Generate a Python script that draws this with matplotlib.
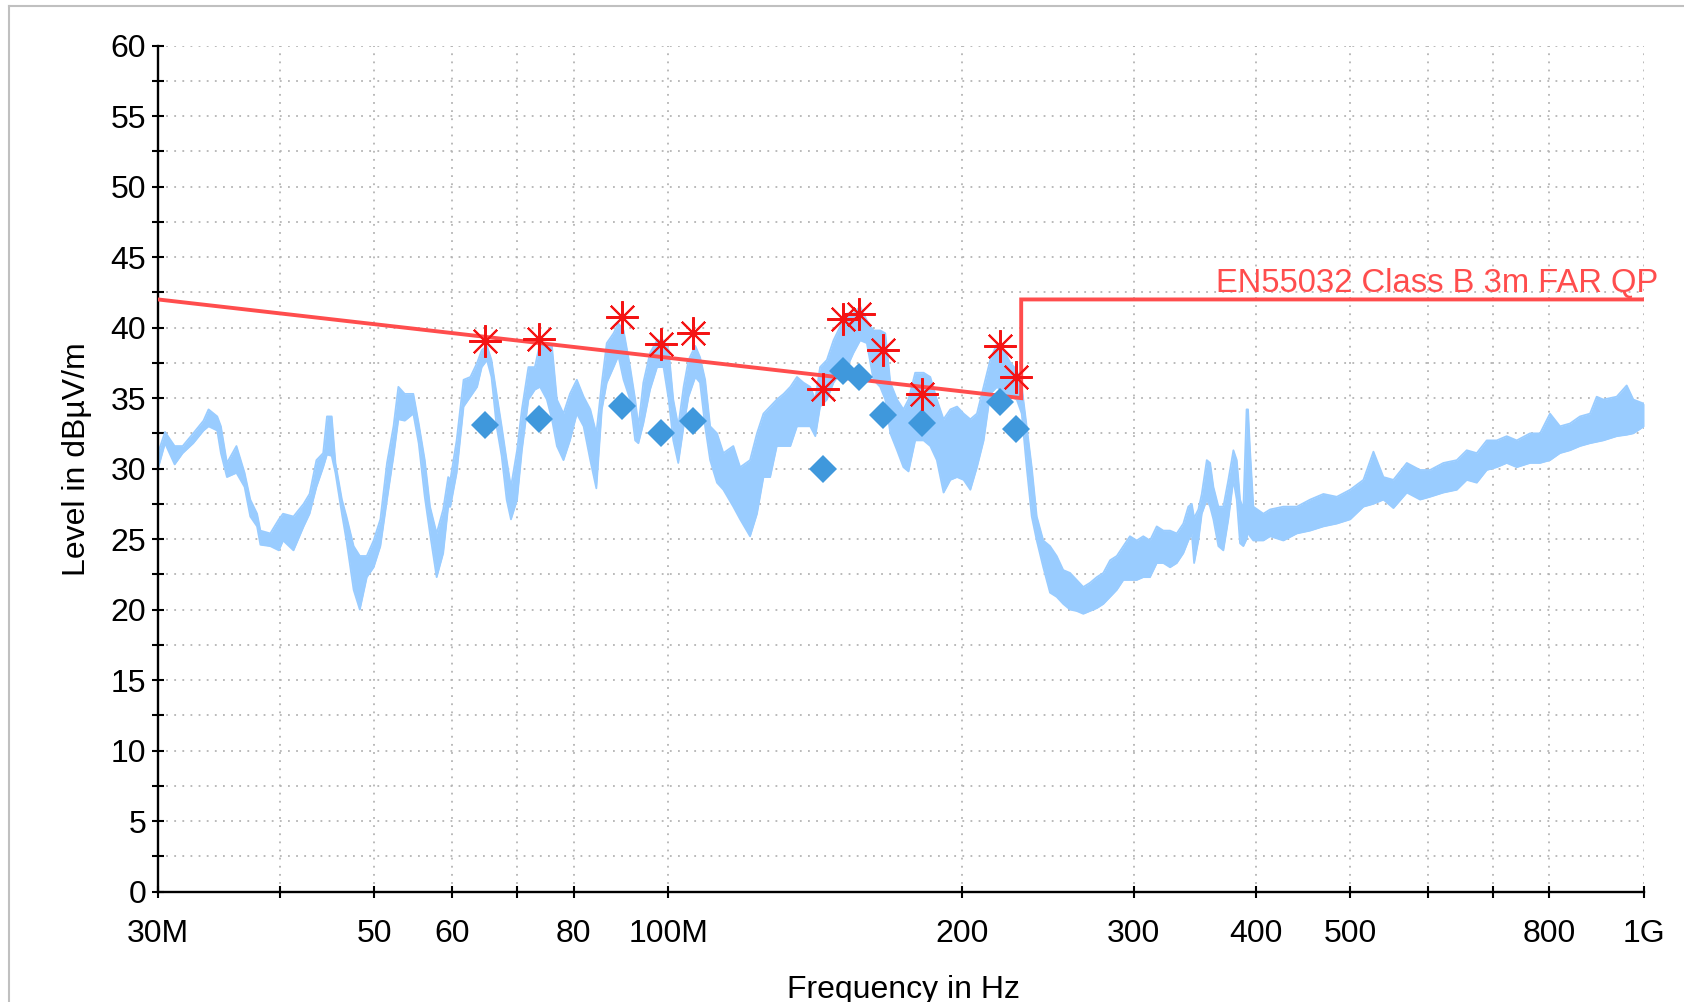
import matplotlib
matplotlib.use("Agg")
import matplotlib.pyplot as plt
from matplotlib.ticker import FixedLocator, FixedFormatter, MultipleLocator, NullLocator
from matplotlib.lines import Line2D

plt.rcParams['font.family'] = ['Liberation Sans', 'DejaVu Sans']

# ---- measured spectrum envelope (MHz, dBuV/m) ----
freq_mhz = [30.0, 30.5, 31.2, 31.8, 32.6, 33.4, 33.8, 34.5, 34.8, 35.3, 36.1, 36.8, 37.3, 37.9, 38.2,
            39.1, 39.9, 40.3, 41.3, 42.3, 42.9, 43.6, 44.3, 44.7, 45.2, 45.6, 46.3, 46.8, 47.6, 48.3,
            49.1, 49.9, 50.7, 51.5, 52.3, 52.9, 53.7, 54.8, 55.5, 56.3, 57.0, 57.9, 58.8, 59.5,
            59.8, 60.7, 61.7, 62.7, 63.7, 64.4, 65.2, 65.9, 66.7, 67.5, 68.3, 69.0, 70.0, 70.8,
            71.9, 73.0, 73.9, 75.1, 76.0, 76.9, 78.1, 79.3, 80.6, 81.9, 83.2, 84.4, 85.5, 86.5,
            87.9, 88.9, 90.0, 91.4, 92.5, 93.2, 94.3, 95.8, 97.4, 98.9, 100.1, 101.2, 102.4, 103.7,
            104.9, 106.6, 107.8, 109.1, 110.4, 112.2, 113.9, 116.6, 118.5,
            121.3, 123.3, 125.2, 127.2, 129.2, 131.3, 133.4, 135.5, 137.6, 139.8, 141.5, 143.1,
            145.4, 147.7, 150.1, 152.5, 154.8, 157.3, 159.8, 162.3, 164.9, 166.9, 168.9, 171.6,
            174.2, 176.3, 179.1, 182.7, 185.6, 188.5, 191.5, 194.6, 197.7, 200.8, 204.0, 207.2,
            210.5, 213.8, 217.3, 220.7, 224.2, 227.6, 230.3, 233.0, 235.8, 238.6, 242.3,
            246.2, 250.1, 254.0, 258.1, 262.2, 266.3, 270.6, 274.9, 279.2, 283.7, 288.2, 292.7,
            297.3, 302.1, 306.8, 311.7, 316.7, 321.7, 326.8, 332.0, 337.2, 341.2, 344.0, 345.9,
            349.4, 352.2, 356.4, 359.2, 362.0, 366.3, 370.6, 375.0, 379.5, 382.5, 385.5, 388.5,
            391.5, 392.8, 394.7, 397.8, 407.3, 413.8, 427.0, 440.8, 454.8, 469.3, 484.4, 499.9,
            515.8, 528.1, 540.7, 553.6, 571.4, 589.6, 603.6, 622.9, 642.9, 658.2, 673.9, 690.0,
            706.5, 723.3, 740.6, 764.2, 782.5, 801.1, 820.2, 839.8, 859.8, 880.4, 894.4, 908.4,
            937.6, 960.0, 975.1, 1000.0]
level_hi = [31.1, 32.6, 31.6, 31.6, 32.5, 33.4, 34.2, 33.7, 33.0, 30.4, 31.6, 29.7, 27.8, 26.8, 25.6,
            25.4, 26.4, 26.8, 26.6, 27.5, 28.2, 30.6, 31.1, 33.7, 33.7, 30.4, 27.8, 26.6, 24.5, 23.8,
            23.8, 24.9, 26.4, 30.4, 33.0, 35.8, 35.3, 35.3, 33.2, 30.6, 27.3, 25.4, 27.1, 29.4,
            29.2, 32.0, 36.3, 36.5, 37.5, 38.4, 38.7, 37.7, 35.3, 33.0, 30.6, 28.7, 31.3, 34.2,
            37.2, 37.2, 38.9, 38.7, 38.7, 34.9, 33.9, 35.3, 36.3, 35.1, 34.2, 32.5, 36.1, 38.9,
            39.6, 40.3, 39.8, 37.2, 34.9, 33.0, 36.1, 38.2, 39.1, 39.1, 38.4, 34.9, 33.0, 35.8,
            37.7, 38.7, 37.9, 36.3, 33.0, 32.5, 31.1, 31.6, 30.1,
            30.6, 32.5, 33.9, 34.4, 34.9, 35.3, 35.8, 36.5, 36.1, 35.8, 34.9, 37.2,
            37.7, 39.1, 40.1, 41.0, 41.0, 41.5, 40.5, 39.8, 39.8, 39.6, 36.1, 34.9,
            34.2, 34.9, 36.8, 36.8, 36.5, 34.9, 33.5, 34.2, 34.4, 33.9, 33.5, 33.9,
            35.8, 37.7, 38.9, 38.4, 37.5, 37.0, 35.8, 33.0, 30.1, 26.6, 24.9,
            24.5, 23.8, 22.8, 22.6, 22.1, 21.6, 21.9, 22.3, 22.6, 23.5, 23.8, 24.5,
            25.2, 24.9, 25.2, 24.9, 25.9, 25.6, 25.6, 25.4, 26.1, 27.3, 27.5, 26.5,
            27.1, 28.2, 30.6, 30.4, 28.7, 27.3, 27.3, 29.2, 31.3, 30.6, 27.8, 27.1,
            34.2, 34.2, 31.3, 27.3, 26.8, 27.1, 27.3, 27.3, 27.8, 28.2, 28.0, 28.5,
            29.2, 31.2, 29.4, 29.2, 30.4, 29.9, 29.9, 30.4, 30.6, 31.3, 31.1, 32.0,
            32.0, 32.3, 32.0, 32.5, 32.5, 33.9, 33.0, 33.2, 33.7, 33.9, 35.1, 34.9,
            35.1, 35.9, 34.9, 34.6]
level_lo = [30.0, 31.8, 30.3, 31.1, 31.8, 32.7, 33.0, 32.7, 31.1, 29.4, 29.7, 28.7, 26.6, 25.9, 24.6,
            24.5, 24.2, 24.9, 24.2, 25.9, 26.8, 28.7, 30.1, 31.0, 30.9, 29.7, 26.8, 24.9, 21.4, 20.0,
            22.3, 23.0, 24.5, 27.8, 30.9, 33.5, 33.4, 33.9, 31.8, 28.0, 25.4, 22.3, 24.0, 27.3,
            27.3, 29.7, 34.4, 35.1, 35.8, 37.2, 37.7, 36.5, 33.0, 30.9, 27.8, 26.4, 27.8, 31.3,
            34.9, 35.6, 35.8, 34.9, 33.5, 31.6, 30.6, 32.0, 33.9, 33.0, 30.6, 28.6, 34.2, 36.1,
            37.2, 38.0, 36.3, 34.9, 32.0, 31.8, 33.2, 35.6, 37.2, 37.2, 34.9, 32.0, 30.4, 33.0,
            35.1, 36.5, 36.1, 33.0, 30.6, 29.0, 28.5, 27.3, 26.4,
            25.2, 26.8, 29.4, 29.4, 31.6, 31.6, 31.6, 33.0, 33.0, 33.0, 32.3, 34.4,
            34.9, 36.1, 36.8, 37.2, 38.2, 39.1, 38.9, 36.3, 35.8, 34.9, 32.5, 31.3,
            30.1, 29.8, 32.0, 32.0, 31.6, 30.6, 28.3, 29.2, 29.4, 29.2, 28.5, 30.1,
            32.0, 35.3, 35.8, 35.3, 35.1, 34.9, 33.9, 30.1, 26.6, 24.9, 23.0,
            21.2, 20.9, 20.4, 20.0, 19.9, 19.7, 19.9, 20.1, 20.4, 20.9, 21.4, 22.1,
            22.1, 22.1, 22.3, 22.3, 23.3, 23.3, 23.0, 23.3, 24.0, 24.9, 25.4, 23.3,
            24.9, 26.8, 27.8, 27.3, 26.4, 24.5, 24.2, 26.4, 29.2, 27.8, 24.7, 24.5,
            25.0, 25.5, 25.2, 24.9, 24.9, 25.2, 24.9, 25.4, 25.6, 25.9, 26.1, 26.4,
            27.3, 27.5, 27.8, 27.2, 28.3, 27.8, 28.0, 28.3, 28.5, 29.2, 29.0, 29.9,
            30.1, 30.4, 30.1, 30.4, 30.4, 30.6, 31.1, 31.3, 31.6, 31.8, 31.9, 32.0,
            32.3, 32.4, 32.5, 33.0]

# ---- final peak results ----
peak_freq = [64.9, 73.7, 89.6, 98.2, 106.1, 144.2, 151.1, 157.0, 166.1, 182.2, 218.8, 227.2]
peak_level = [39.08, 39.17, 40.73, 38.82, 39.65, 35.63, 40.59, 40.97, 38.42, 35.27, 38.70, 36.48]
qp_freq = [64.9, 73.7, 89.6, 98.4, 106.1, 144.2, 151.1, 157.0, 166.1, 182.2, 218.8, 227.2]
qp_level = [33.10, 33.50, 34.44, 32.55, 33.38, 29.95, 36.95, 36.48, 33.78, 33.22, 34.73, 32.84]

# ---- limit line ----
limit_freq = [30, 230, 230, 1000]
limit_level = [42, 35, 42, 42]
limit_name = "EN55032 Class B 3m FAR QP"

xtick_vals = [30, 40, 50, 60, 70, 80, 100, 200, 300, 400, 500, 600, 700, 800, 1000]
xtick_labels = ['30M', '', '50', '60', '', '80', '100M', '200', '300', '400', '500', '', '', '800', '1G']

FS = 23
fig = plt.figure(figsize=(16.84, 10.02), dpi=100)
ax = fig.add_axes([158 / 1684, (1002 - 891.5) / 1002, 1486 / 1684, 845.8 / 1002])

trace_c = '#99ccff'
ax.fill_between(freq_mhz, level_lo, level_hi, color=trace_c, lw=0, zorder=2)
ax.plot(freq_mhz, level_hi, color=trace_c, lw=1.3, zorder=2)
ax.plot(freq_mhz, level_lo, color=trace_c, lw=1.3, zorder=2)

ax.plot(limit_freq, limit_level, color='#ff4d4d', lw=2.8, zorder=3, solid_joinstyle='miter')
ax.annotate(limit_name, xy=(limit_freq[-1], limit_level[-1]), xytext=(10, 5.5),
            textcoords='offset points', ha='right', va='baseline', color='#ff4d4d',
            fontsize=23.6, annotation_clip=False, zorder=5)

ax.plot(qp_freq, qp_level, ls='none', marker='D', ms=14.5, mew=0, color='#3f98dc', zorder=4)
ax.plot(peak_freq, peak_level, ls='none', marker=(8, 2, 0), ms=23.5, mew=1.5,
        color='#f41414', zorder=5)

ax.set_xscale('log')
ax.set_xlim(30, 1000)
ax.set_ylim(0, 60)
ax.xaxis.set_major_locator(FixedLocator(xtick_vals))
ax.xaxis.set_major_formatter(FixedFormatter(xtick_labels))
ax.xaxis.set_minor_locator(NullLocator())
ax.yaxis.set_major_locator(MultipleLocator(5))
ax.yaxis.set_minor_locator(MultipleLocator(2.5))

for s in ['top', 'right']:
    ax.spines[s].set_visible(False)
for s in ['left', 'bottom']:
    ax.spines[s].set_linewidth(1.7)
    ax.spines[s].set_color('black')

ax.tick_params(axis='both', which='both', direction='inout', length=8.6, width=1.5,
               labelsize=FS, color='black')
ax.tick_params(axis='y', which='both', pad=4.3)
ax.tick_params(axis='x', which='both', pad=15.5)

ax.set_axisbelow(True)
ax.grid(True, which='major', axis='x', color='#b4b4b4', lw=1.3, ls=(0, (1, 3.5)))
ax.grid(True, which='both', axis='y', color='#b4b4b4', lw=1.3, ls=(0, (1, 3.5)))

ax.set_xlabel('Frequency in Hz', fontsize=FS)
ax.set_ylabel('Level in dBµV/m', fontsize=FS)
ax.xaxis.set_label_coords(0.502, -0.0987)
ax.yaxis.set_label_coords(-0.0446, 0.511)

# outer frame (partially visible)
fig.add_artist(Line2D([9 / 1684, 9 / 1684], [0, 1 - 6 / 1002], transform=fig.transFigure,
                      color='#c0c0c0', lw=1.5))
fig.add_artist(Line2D([9 / 1684, 1], [1 - 6 / 1002, 1 - 6 / 1002], transform=fig.transFigure,
                      color='#c0c0c0', lw=1.5))

fig.savefig('out.png', dpi=100)
